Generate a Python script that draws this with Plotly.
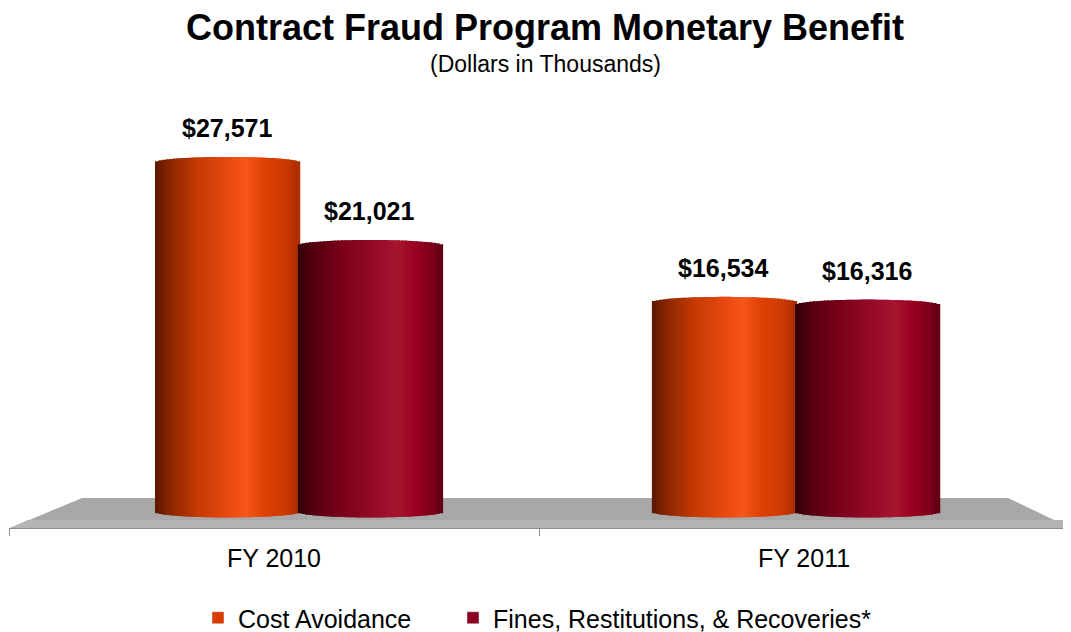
import numpy as np
import plotly.graph_objects as go

# data
categories = ["FY 2010", "FY 2011"]
cost_avoidance = [27571, 16534]
fines_recoveries = [21021, 16316]
series_names = ["Cost Avoidance", "Fines, Restitutions, & Recoveries*"]
title_text = "Contract Fraud Program Monetary Benefit"
subtitle_text = "(Dollars in Thousands)"

# page geometry (the html body adds an 8px margin, so the figure is shrunk by that)
PAGE_W, PAGE_H, BODY = 1071, 632, 8
W, H = PAGE_W - BODY, PAGE_H - BODY
PLOT_L, PLOT_R, PLOT_T, PLOT_B = 9, 1069, 100, 528      # page pixels
PLOT_W, PLOT_H = PLOT_R - PLOT_L, PLOT_B - PLOT_T
Y_MIN, Y_MAX = -1262, 32490
PX_PER_UNIT = PLOT_H / (Y_MAX - Y_MIN)

BAR_W = 0.27
cost_offset = [-0.2245, -0.287]
fines_offset = [0.045, -0.017]

N_STRIPS = 40
CAP_PX = 5.5  # half-height of the cylinder ellipse

cost_stops = [(0.0, "#5a1600"), (0.1, "#8a2600"), (0.3, "#c63a04"), (0.55, "#ee4c14"),
              (0.63, "#f55619"), (0.76, "#e04206"), (0.92, "#cc3802"), (1.0, "#a82c00")]
fines_stops = [(0.0, "#300008"), (0.1, "#52000f"), (0.3, "#7a0018"), (0.6, "#9c0e2c"),
               (0.7, "#a6162f"), (0.82, "#9a0020"), (0.95, "#7c0019"), (1.0, "#5a0010")]


def hex_rgb(h):
    h = h.lstrip("#")
    return [int(h[i:i + 2], 16) for i in (0, 2, 4)]


def grad(stops, t):
    for (t0, c0), (t1, c1) in zip(stops[:-1], stops[1:]):
        if t0 <= t <= t1:
            f = (t - t0) / (t1 - t0) if t1 > t0 else 0
            a, b = hex_rgb(c0), hex_rgb(c1)
            return "rgb(%d,%d,%d)" % tuple(round(a[k] + (b[k] - a[k]) * f) for k in range(3))
    return stops[-1][1]


x_px = lambda px: (px - PLOT_L) / PLOT_W
y_px = lambda py: (PLOT_B - py) / PLOT_H

fig = go.Figure()

cap = CAP_PX / PX_PER_UNIT
for vals, offs, stops in [(cost_avoidance, cost_offset, cost_stops),
                          (fines_recoveries, fines_offset, fines_stops)]:
    sw = BAR_W / N_STRIPS
    for j in range(N_STRIPS):
        t = (j + 0.5) / N_STRIPS
        u = 2 * t - 1
        e = cap * np.sqrt(max(0.0, 1 - u * u))
        fig.add_trace(go.Bar(
            x=categories,
            y=[v + 2 * e for v in vals],
            base=[-e] * len(vals),
            offset=[o + j * sw for o in offs],
            width=[sw * 1.6] * len(vals),
            marker=dict(color=grad(stops, t), line=dict(width=0)),
            showlegend=False, hoverinfo="skip"))

# legend entries, one legend each so they can sit where the original has them
fig.add_trace(go.Bar(x=categories, y=[None, None], name=series_names[0], marker_color="#d93c00",
                     legend="legend"))
fig.add_trace(go.Bar(x=categories, y=[None, None], name=series_names[1], marker_color="#8c0020",
                     legend="legend2"))

# value labels
for vals, offs in [(cost_avoidance, cost_offset), (fines_recoveries, fines_offset)]:
    for i, v in enumerate(vals):
        fig.add_annotation(x=i + offs[i] + BAR_W / 2, y=v, yshift=34, text="<b>$%s</b>" % format(v, ","),
                           showarrow=False, font=dict(size=25, color="black"), yanchor="middle")

# floor
fig.add_shape(type="path", xref="paper", yref="paper", layer="below",
              path="M %f,%f L %f,%f L %f,%f L %f,%f Z" % (x_px(10), y_px(528), x_px(82), y_px(498),
                                                         x_px(1008), y_px(498), x_px(1071), y_px(528)),
              fillcolor="#a8a8a8", line=dict(width=0))
fig.add_shape(type="path", xref="paper", yref="paper", layer="below",
              path="M %f,%f L %f,%f L %f,%f L %f,%f Z" % (x_px(10), y_px(528), x_px(28), y_px(520),
                                                         x_px(1071), y_px(520), x_px(1071), y_px(528)),
              fillcolor="#b4b4b4", line=dict(width=0))

fig.add_annotation(xref="paper", yref="paper", x=x_px(545), y=y_px(28), text="<b>" + title_text + "</b>",
                   showarrow=False, font=dict(size=36, color="black"), yanchor="middle")
fig.add_annotation(xref="paper", yref="paper", x=x_px(545), y=y_px(64), text=subtitle_text,
                   showarrow=False, font=dict(size=23, color="black"), yanchor="middle")

legend_style = dict(orientation="h", xanchor="left", yanchor="middle", y=y_px(618),
                    font=dict(size=25), bgcolor="rgba(0,0,0,0)")
fig.update_layout(
    width=W, height=H,
    margin=dict(l=PLOT_L - BODY, r=PAGE_W - PLOT_R, t=PLOT_T - BODY, b=PAGE_H - PLOT_B,
                autoexpand=False),
    barmode="overlay",
    paper_bgcolor="white", plot_bgcolor="white",
    font=dict(family="Arial, Liberation Sans, sans-serif", color="black"),
    legend=dict(x=x_px(198), **legend_style),
    legend2=dict(x=x_px(453), **legend_style),
    xaxis=dict(range=[-0.5, 1.5], showgrid=False, zeroline=False, showline=True,
               linecolor="#8c8c8c", linewidth=1, ticks="outside", tickson="boundaries",
               ticklen=7, tickcolor="#8c8c8c", tickfont=dict(size=25), ticklabelstandoff=8),
    yaxis=dict(range=[Y_MIN, Y_MAX], visible=False),
)

fig.write_html("out.html")
